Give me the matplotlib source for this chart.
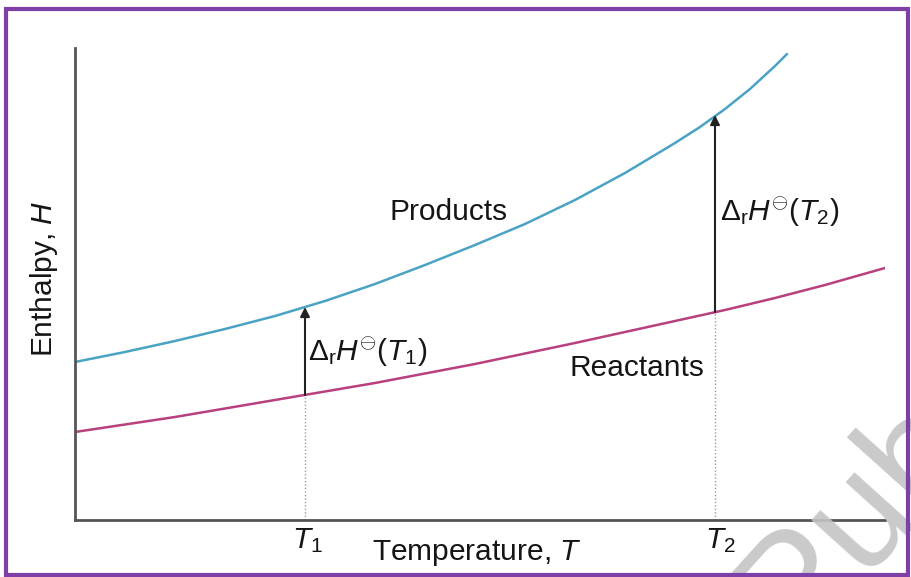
import matplotlib
matplotlib.use("Agg")
import matplotlib.pyplot as plt
from matplotlib.patches import Rectangle

plt.rcParams['mathtext.fontset'] = 'custom'
plt.rcParams['mathtext.rm'] = 'Liberation Sans'
plt.rcParams['mathtext.it'] = 'Liberation Sans:italic'
plt.rcParams['font.family'] = ['Liberation Sans', 'DejaVu Sans']

# Data (arbitrary units)
T_products = [0, 50, 100, 150, 200, 250, 300, 350, 400, 450, 500, 550, 600, 625, 650, 675, 700, 712]
H_products = [158, 168, 179, 191, 204, 219, 236, 255, 275, 296, 320, 347, 377, 393, 411, 431, 454, 466]
T_reactants = [0, 100, 200, 300, 400, 500, 600, 650, 700, 750, 810]
H_reactants = [88, 103, 120, 137, 156, 177, 199, 210, 222, 235, 252]
T1, T2 = 230, 640
H_react_T1, H_prod_T1 = 125, 213
H_react_T2, H_prod_T2 = 208, 405

fig = plt.figure(figsize=(9.11, 5.77), dpi=100)
ax = fig.add_axes([75/911, 57/577, 810/911, 472/577])
ax.set_xlim(0, 810)
ax.set_ylim(0, 472)

ax.plot(T_products, H_products, color='#4aa3c4', lw=1.8, solid_capstyle='round')
ax.plot(T_reactants, H_reactants, color='#b8407f', lw=1.8, solid_capstyle='round')

# dotted drop lines
ax.plot([T1, T1], [0, H_react_T1], color='#999999', lw=1, ls=(0, (1, 1.5)))
ax.plot([T2, T2], [0, H_react_T2], color='#999999', lw=1, ls=(0, (1, 1.5)))

# arrows
for T, a, b in [(T1, H_react_T1, H_prod_T1), (T2, H_react_T2, H_prod_T2)]:
    ax.annotate('', xy=(T, b), xytext=(T, a),
                arrowprops=dict(arrowstyle='-|>', color='#222222', lw=1.5,
                                mutation_scale=14, shrinkA=0, shrinkB=0))

for s in ['top', 'right']:
    ax.spines[s].set_visible(False)
for s in ['left', 'bottom']:
    ax.spines[s].set_color('#555555')
    ax.spines[s].set_linewidth(2)
ax.set_xticks([])
ax.set_yticks([])

fs = 21.5
tc = '#151515'
ax.text(390 - 75, 520 - 212, 'Products', fontsize=fs, va='center', ha='left', color=tc)
ax.text(570 - 75, 520 - 368, 'Reactants', fontsize=fs, va='center', ha='left', color=tc)
ax.text(T1 + 3, 520 - 352, r'$\Delta_{\rm r}H^{\ominus}(T_1)$', fontsize=fs, va='center', ha='left', color=tc)
ax.text(T2 + 5, 520 - 212, r'$\Delta_{\rm r}H^{\ominus}(T_2)$', fontsize=fs, va='center', ha='left', color=tc)

fig.text(307/911, 1 - 541/577, r'$T_1$', fontsize=fs, ha='center', va='center', color=tc)
fig.text(720/911, 1 - 541/577, r'$T_2$', fontsize=fs, ha='center', va='center', color=tc)
fig.text(477/911, 1 - 553/577, r'Temperature, $T$', fontsize=fs, ha='center', va='center', color=tc)
fig.text(44/911, 1 - 279/577, r'Enthalpy, $H$', fontsize=fs, ha='center', va='center',
         rotation=90, color=tc)

# watermark
fig.text(855/911, 1 - 520/577, 'Pub', fontsize=110, color='#c4c4c4', alpha=0.9,
         rotation=48, ha='center', va='center', zorder=5)

# purple frame
fig.patches.append(Rectangle((6/911, 2/577), 902/911, 566/577, transform=fig.transFigure,
                             fill=False, edgecolor='#7e3fa6', lw=3, zorder=10))

fig.savefig('out.png', dpi=100)
